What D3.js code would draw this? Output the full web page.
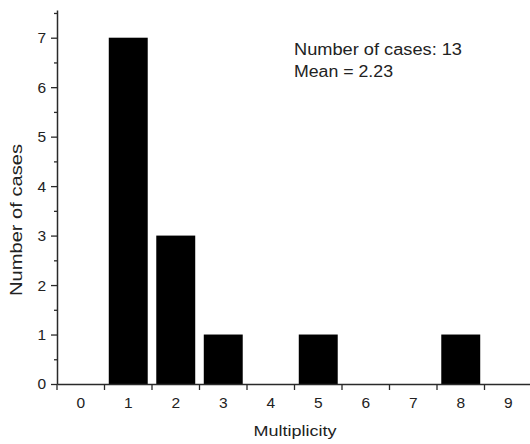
<!DOCTYPE html>
<html>
<head>
<meta charset="utf-8">
<script src="https://cdn.jsdelivr.net/npm/d3@7"></script>
<style>
  html, body { margin: 0; padding: 0; background: #fff; }
  text { font-family: "Liberation Sans", Arial, sans-serif; fill: #222; }
  .tick text { font-size: 15.5px; font-family: "Liberation Sans", Arial, sans-serif; fill: #222; }
</style>
</head>
<body>
<svg id="chart" width="530" height="444"></svg>
<script>
const categories = ["0","1","2","3","4","5","6","7","8","9"];
const counts = [0, 7, 3, 1, 0, 1, 0, 0, 1, 0];
const yTicks = [0, 1, 2, 3, 4, 5, 6, 7];
const yMinorTicks = [0.5, 1.5, 2.5, 3.5, 4.5, 5.5, 6.5, 7.5];
const annotation = ["Number of cases: 13", "Mean = 2.23"];
const xTitle = "Multiplicity";
const yTitle = "Number of cases";

const svg = d3.select("#chart");
const mLeft = 57, mRight = 532, mTop = 10, mBottom = 384;
const axisColor = "#2a2a2a";

const x = d3.scaleBand().domain(categories).range([mLeft, mRight])
  .paddingInner(0.18).paddingOuter(0.09);
const y = d3.scaleLinear().domain([0, 7.56]).range([mBottom, mTop]);
const step = x.step();
const pad = step * 0.09;

// bars
svg.append("g").selectAll("rect")
  .data(categories.map((c, i) => ({c, v: counts[i]})).filter(d => d.v > 0))
  .join("rect")
  .attr("x", d => x(d.c))
  .attr("width", x.bandwidth())
  .attr("y", d => y(d.v))
  .attr("height", d => y(0) - y(d.v))
  .attr("fill", "#000");

// y axis
const yAxis = svg.append("g").attr("transform", `translate(${mLeft},0)`)
  .call(d3.axisLeft(y).tickValues(yTicks).tickFormat(d3.format("d")).tickSize(6).tickSizeOuter(0).tickPadding(5));
yAxis.attr("font-size", null).attr("font-family", null);
yAxis.select(".domain").attr("stroke", axisColor).attr("stroke-width", 1.5);
yAxis.selectAll(".tick line").attr("stroke", axisColor).attr("stroke-width", 1.3);

const yMinor = svg.append("g").attr("transform", `translate(${mLeft},0)`)
  .call(d3.axisLeft(y).tickValues(yMinorTicks).tickFormat("").tickSize(3).tickSizeOuter(0));
yMinor.select(".domain").remove();
yMinor.selectAll(".tick line").attr("stroke", axisColor).attr("stroke-width", 1.3);

// x axis
const xAxis = svg.append("g").attr("transform", `translate(0,${mBottom})`)
  .call(d3.axisBottom(x).tickSize(0).tickSizeOuter(0).tickPadding(13));
xAxis.attr("font-size", null).attr("font-family", null);
xAxis.select(".domain").attr("stroke", axisColor).attr("stroke-width", 1.5);

// boundary ticks
svg.append("g").selectAll("line")
  .data(categories)
  .join("line")
  .attr("x1", d => x(d) - pad).attr("x2", d => x(d) - pad)
  .attr("y1", mBottom).attr("y2", mBottom + 6)
  .attr("stroke", axisColor).attr("stroke-width", 1.3);

// titles
svg.append("text")
  .attr("x", 295).attr("y", 436)
  .attr("text-anchor", "middle")
  .style("font-size", "15px")
  .attr("textLength", 83).attr("lengthAdjust", "spacingAndGlyphs")
  .text(xTitle);

svg.append("text")
  .attr("transform", `translate(22,220) rotate(-90)`)
  .attr("text-anchor", "middle")
  .style("font-size", "16px")
  .attr("textLength", 152).attr("lengthAdjust", "spacingAndGlyphs")
  .text(yTitle);

// annotation
const ann = svg.append("g");
ann.append("text").attr("x", 294).attr("y", 55).style("font-size", "16px")
  .attr("textLength", 168).attr("lengthAdjust", "spacingAndGlyphs").text(annotation[0]);
ann.append("text").attr("x", 294).attr("y", 77).style("font-size", "16px")
  .attr("textLength", 99).attr("lengthAdjust", "spacingAndGlyphs").text(annotation[1]);
</script>
</body>
</html>
